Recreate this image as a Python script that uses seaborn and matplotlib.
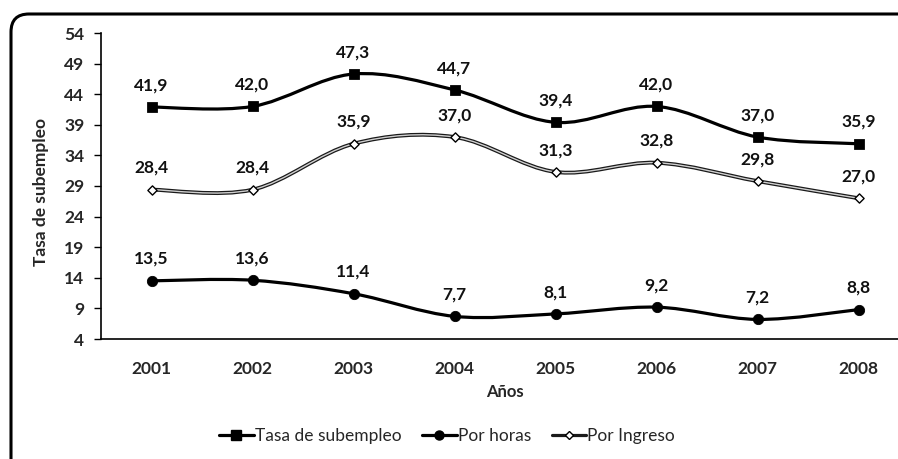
import numpy as np
import pandas as pd
import matplotlib
matplotlib.use("Agg")
import matplotlib.pyplot as plt
from matplotlib.path import Path
from matplotlib.patches import PathPatch, FancyBboxPatch
from matplotlib.lines import Line2D
from matplotlib.transforms import IdentityTransform
import seaborn as sns

years = ["2001", "2002", "2003", "2004", "2005", "2006", "2007", "2008"]
tasa_subempleo = [41.9, 42.0, 47.3, 44.7, 39.4, 42.0, 37.0, 35.9]
por_horas = [13.5, 13.6, 11.4, 7.7, 8.1, 9.2, 7.2, 8.8]
por_ingreso = [28.4, 28.4, 35.9, 37.0, 31.3, 32.8, 29.8, 27.0]
y_ticks = [4, 9, 14, 19, 24, 29, 34, 39, 44, 49, 54]

sns.set_theme(style="white")
plt.rcParams["font.family"] = ["Lato", "DejaVu Sans"]

fig = plt.figure(figsize=(8.98, 4.59), dpi=100)
ax = fig.add_axes([101 / 898, 120 / 459, 808 / 898, 306 / 459])

x = np.arange(len(years))


def smooth_path(xs, ys, tension=1 / 6):
    """Cubic Bezier path through the points (Catmull-Rom style smoothing)."""
    pts = np.column_stack([xs, ys]).astype(float)
    n = len(pts)
    verts = [pts[0]]
    codes = [Path.MOVETO]
    for i in range(n - 1):
        p0 = pts[max(i - 1, 0)]
        p1 = pts[i]
        p2 = pts[i + 1]
        p3 = pts[min(i + 2, n - 1)]
        c1 = p1 + (p2 - p0) * tension
        c2 = p2 - (p3 - p1) * tension
        verts += [c1, c2, p2]
        codes += [Path.CURVE4] * 3
    return Path(verts, codes)


# smoothed connecting lines
ax.add_patch(PathPatch(smooth_path(x, tasa_subempleo), fill=False,
                       edgecolor="black", lw=2.3, zorder=2))
ax.add_patch(PathPatch(smooth_path(x, por_horas), fill=False,
                       edgecolor="black", lw=2.3, zorder=2))
ax.add_patch(PathPatch(smooth_path(x, por_ingreso), fill=False,
                       edgecolor="#1a1a1a", lw=2.8, zorder=2))
ax.add_patch(PathPatch(smooth_path(x, por_ingreso), fill=False,
                       edgecolor="#d0d0d0", lw=1.0, zorder=2.1))

df = pd.DataFrame({"x": x, "tasa": tasa_subempleo,
                   "horas": por_horas, "ingreso": por_ingreso})
sns.scatterplot(data=df, x="x", y="tasa", marker="s", s=50, color="black",
                edgecolor="black", ax=ax, zorder=3, legend=False)
sns.scatterplot(data=df, x="x", y="horas", marker="o", s=55, color="black",
                edgecolor="black", ax=ax, zorder=3, legend=False)
sns.scatterplot(data=df, x="x", y="ingreso", marker="D", s=22, color="white",
                edgecolor="black", linewidth=1.0, ax=ax, zorder=3, legend=False)


def fmt(v):
    return f"{v:.1f}".replace(".", ",")


for series in (tasa_subempleo, por_horas, por_ingreso):
    for xi, v in zip(x, series):
        ax.annotate(fmt(v), (xi, v), xytext=(0, 10), textcoords="offset points",
                    ha="center", va="bottom", fontsize=12.5, fontweight="bold",
                    color="#111111")

ax.set_xlim(-0.5, 7.5)
ax.set_ylim(4, 54)
ax.set_xticks(x)
ax.set_xticklabels(years, fontsize=12.5, fontweight="bold")
ax.set_yticks(y_ticks)
ax.set_yticklabels([str(t) for t in y_ticks], fontsize=12.5, fontweight="bold")
ax.tick_params(axis="y", direction="out", length=5, width=1, color="black",
               left=True, pad=7)
ax.tick_params(axis="x", length=0, pad=16)

for side in ("top", "right"):
    ax.spines[side].set_visible(False)
for side in ("left", "bottom"):
    ax.spines[side].set_color("black")
    ax.spines[side].set_linewidth(1.2)

ax.set_xlabel("Años", fontsize=12, fontweight="bold", labelpad=5)
ax.set_ylabel("Tasa de subempleo", fontsize=12.5, fontweight="bold")
ax.yaxis.set_label_coords(-52 / 808, (339 - 192) / 306)

handles = [
    Line2D([], [], color="black", lw=2.3, marker="s", markersize=6.5),
    Line2D([], [], color="black", lw=2.3, marker="o", markersize=6.5),
    Line2D([], [], color="#1a1a1a", lw=2.3, marker="D", markersize=4,
           markerfacecolor="white", markeredgecolor="black"),
]
fig.legend(handles, ["Tasa de subempleo", "Por horas", "Por Ingreso"],
           loc="center", bbox_to_anchor=(447 / 898, 1 - 436 / 459), ncol=3,
           frameon=False, fontsize=12.5, handlelength=2.0, handletextpad=0.05,
           columnspacing=1.2)

# rounded outer border of the chart area
fig.patches.append(FancyBboxPatch((11, -20), 930, 459 - 14 + 20,
                                  boxstyle="round,pad=0,rounding_size=18",
                                  transform=IdentityTransform(), fill=False,
                                  edgecolor="black", lw=2.2, figure=fig))

fig.savefig("out.png", dpi=100)
